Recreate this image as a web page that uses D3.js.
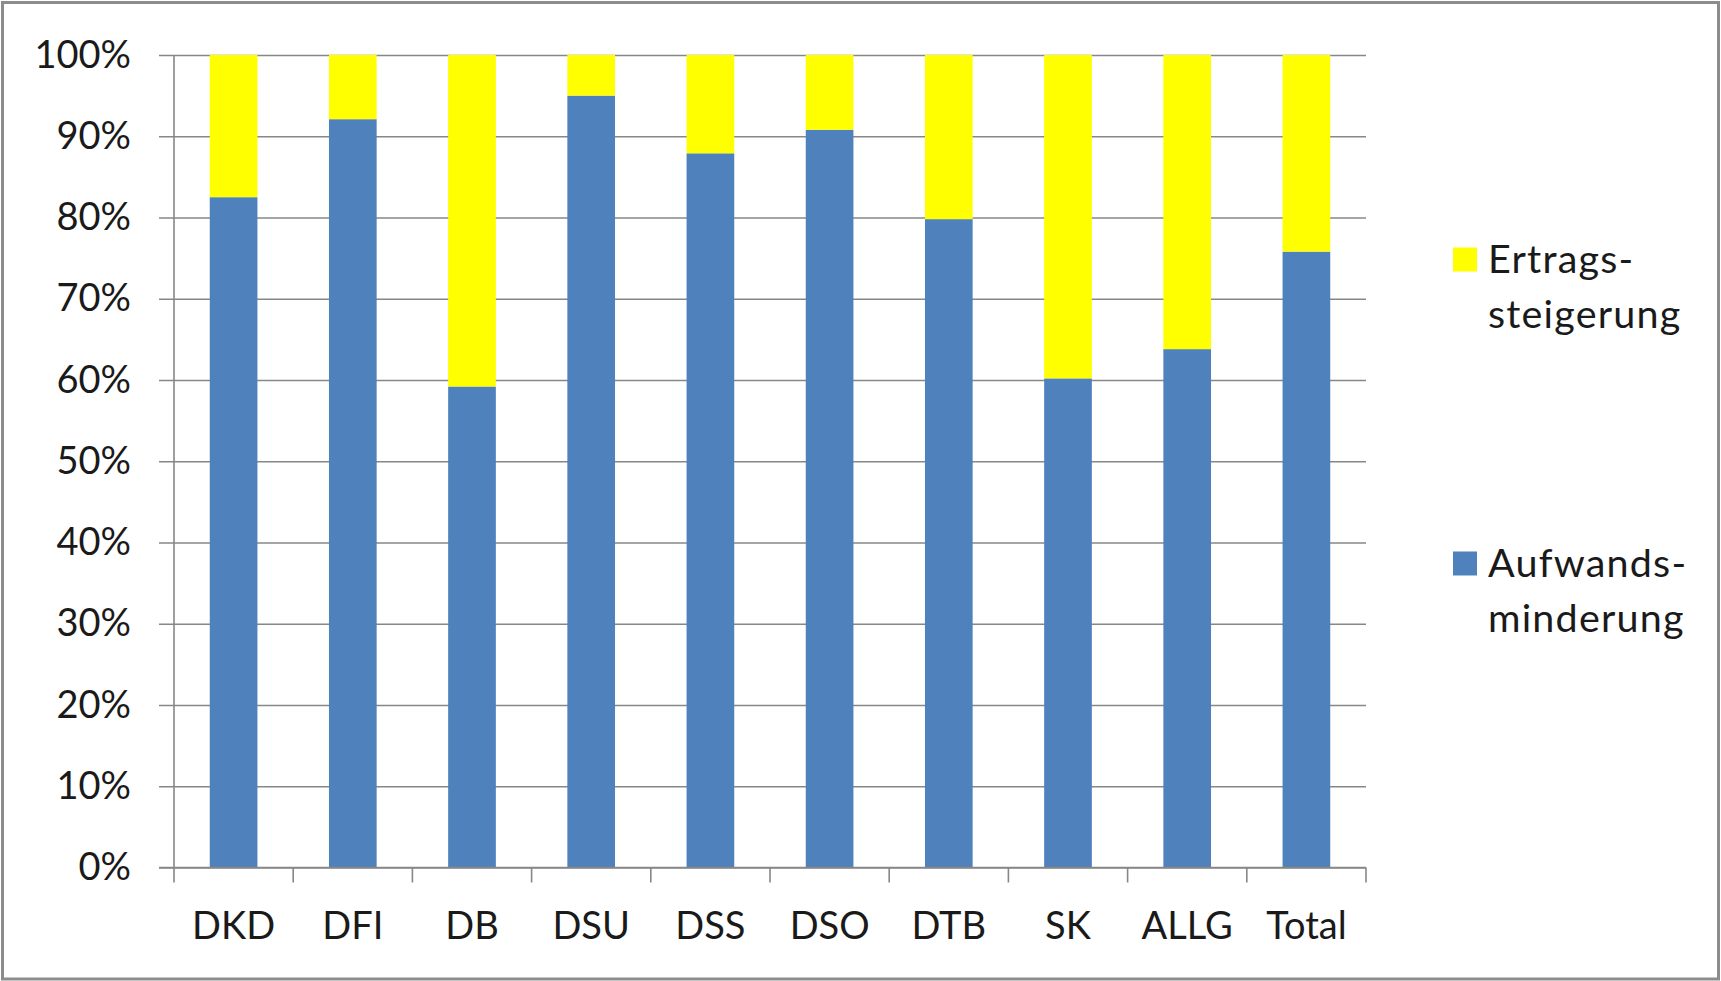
<!DOCTYPE html>
<html>
<head>
<meta charset="utf-8">
<script src="https://cdn.jsdelivr.net/npm/d3@7"></script>
<style>
  html, body { margin: 0; padding: 0; background: #ffffff; }
  svg { display: block; }
  text { font-family: Lato, "Open Sans", sans-serif; fill: #1a1a1a; }
</style>
</head>
<body>
<svg id="chart" width="1721" height="981"></svg>
<script>
// Categories (departments) and shares per category, stacked to 100 %
const categories = ["DKD", "DFI", "DB", "DSU", "DSS", "DSO", "DTB", "SK", "ALLG", "Total"];
const aufwandsminderung = [0.825, 0.921, 0.592, 0.950, 0.879, 0.908, 0.798, 0.602, 0.638, 0.758];
const ertragssteigerung = [0.175, 0.079, 0.408, 0.050, 0.121, 0.092, 0.202, 0.398, 0.362, 0.242];
const yTicks = [0, 0.1, 0.2, 0.3, 0.4, 0.5, 0.6, 0.7, 0.8, 0.9, 1.0];
const seriesNames = ["Aufwandsminderung", "Ertragssteigerung"];
const legendLines = { Ertragssteigerung: ["Ertrags-", "steigerung"], Aufwandsminderung: ["Aufwands-", "minderung"] };
const colors = { Aufwandsminderung: "#4F81BD", Ertragssteigerung: "#FFFF00" };

const W = 1721, H = 981;
const plot = { left: 174, right: 1366, top: 55, bottom: 867.5 };
const gridColor = "#878787";
const fontSize = 38;

const svg = d3.select("#chart");

// Outer frame
svg.append("rect")
  .attr("x", 2.5).attr("y", 2.5)
  .attr("width", W - 5).attr("height", H - 4.5)
  .attr("fill", "#ffffff")
  .attr("stroke", "#8c8c8c")
  .attr("stroke-width", 3);

const x = d3.scaleBand()
  .domain(categories)
  .range([plot.left, plot.right])
  .paddingInner(0.6)
  .paddingOuter(0.3);

const y = d3.scaleLinear()
  .domain([0, 1])
  .range([plot.bottom, plot.top]);

// Horizontal gridlines + y axis labels
const yAxis = d3.axisLeft(y)
  .tickValues(yTicks)
  .tickFormat(d3.format(".0%"))
  .tickSize(-(plot.right - plot.left))
  .tickSizeOuter(0)
  .tickPadding(43);

const gy = svg.append("g")
  .attr("transform", `translate(${plot.left},0)`)
  .call(yAxis);
gy.select(".domain").remove();
gy.selectAll(".tick line")
  .attr("x1", -15)
  .attr("stroke", gridColor)
  .attr("stroke-width", 1.6);
gy.selectAll(".tick text")
  .attr("font-size", fontSize)
  .style("font-family", "Lato, 'Open Sans', sans-serif")
  .attr("fill", "#1a1a1a");

// Stacked bars
const rows = categories.map((c, i) => ({
  cat: c,
  Aufwandsminderung: aufwandsminderung[i],
  Ertragssteigerung: ertragssteigerung[i]
}));
const stack = d3.stack().keys(seriesNames);
const layers = stack(rows);

svg.append("g")
  .selectAll("g")
  .data(layers)
  .join("g")
  .attr("fill", d => colors[d.key])
  .selectAll("rect")
  .data(d => d)
  .join("rect")
  .attr("x", d => x(d.data.cat))
  .attr("width", x.bandwidth())
  .attr("y", d => y(d[1]))
  .attr("height", d => y(d[0]) - y(d[1]));

// Vertical axis line
svg.append("line")
  .attr("x1", plot.left).attr("x2", plot.left)
  .attr("y1", y(1)).attr("y2", y(0))
  .attr("stroke", gridColor)
  .attr("stroke-width", 1.6);

// Horizontal axis line with category boundary ticks
svg.append("line")
  .attr("x1", plot.left - 15).attr("x2", plot.right)
  .attr("y1", y(0)).attr("y2", y(0))
  .attr("stroke", gridColor)
  .attr("stroke-width", 1.6);

const boundaries = d3.range(categories.length + 1).map(i => plot.left + i * x.step());
svg.append("g")
  .selectAll("line")
  .data(boundaries)
  .join("line")
  .attr("x1", d => d).attr("x2", d => d)
  .attr("y1", y(0)).attr("y2", y(0) + 15)
  .attr("stroke", gridColor)
  .attr("stroke-width", 1.6);

// Category labels
const xAxis = d3.axisBottom(x).tickSize(0).tickPadding(45);
const gx = svg.append("g")
  .attr("transform", `translate(0,${plot.bottom})`)
  .call(xAxis);
gx.select(".domain").remove();
gx.selectAll(".tick text")
  .attr("font-size", fontSize)
  .style("font-family", "Lato, 'Open Sans', sans-serif")
  .attr("fill", "#1a1a1a");

// Legend
const legendItems = [
  { key: "Ertragssteigerung", y: 247.5 },
  { key: "Aufwandsminderung", y: 551.5 }
];
const lg = svg.append("g");
legendItems.forEach(item => {
  lg.append("rect")
    .attr("x", 1453).attr("y", item.y)
    .attr("width", 24).attr("height", 24)
    .attr("fill", colors[item.key]);
  const t = lg.append("text")
    .attr("x", 1488)
    .attr("y", item.y + 25.5)
    .attr("font-size", 39.5)
    .attr("letter-spacing", 1.2);
  legendLines[item.key].forEach((line, j) => {
    t.append("tspan")
      .attr("x", 1488)
      .attr("dy", j === 0 ? 0 : 54.5)
      .text(line);
  });
});
</script>
</body>
</html>
